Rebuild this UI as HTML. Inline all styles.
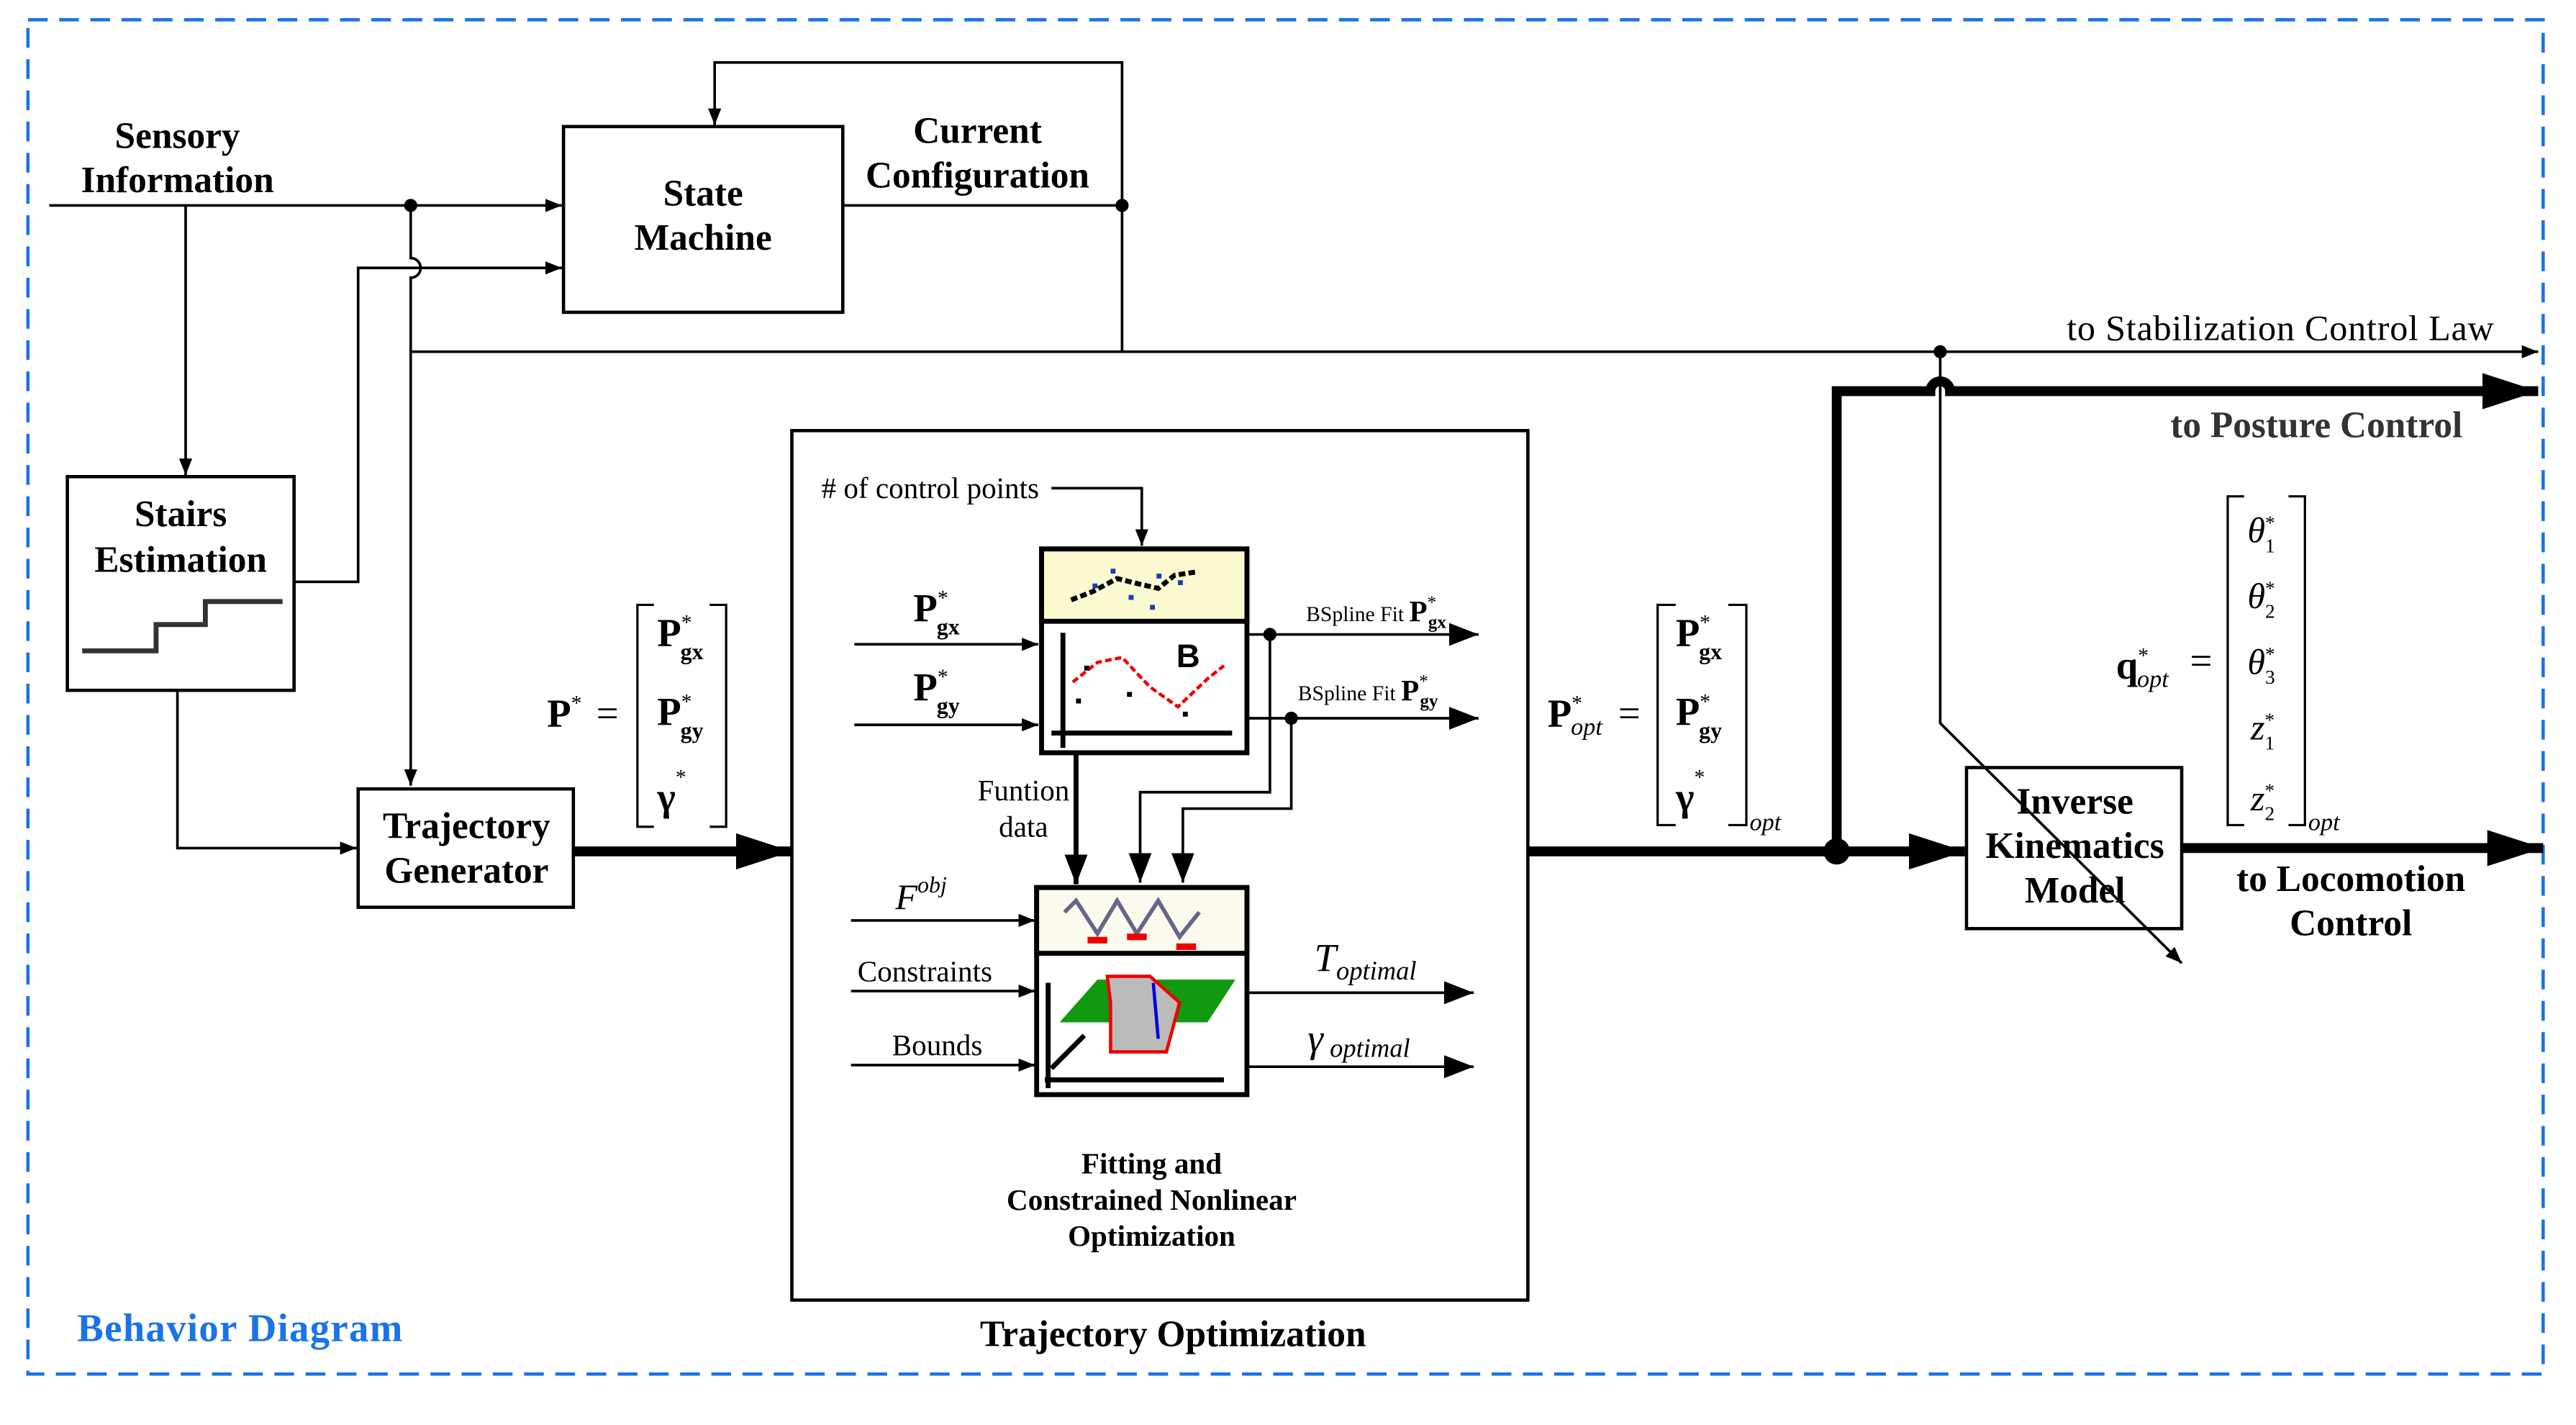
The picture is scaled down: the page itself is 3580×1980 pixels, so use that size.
<!DOCTYPE html>
<html><head><meta charset="utf-8"><style>
html,body{margin:0;padding:0;background:#fff;}
svg{display:block;}
text{font-family:"Liberation Serif",serif;fill:#000;}
.b{font-weight:bold;font-size:22.5px;}
.n{font-size:18px;}
</style></head><body>
<svg width="3580" height="1980" viewBox="0 0 1568 867" preserveAspectRatio="none" xmlns="http://www.w3.org/2000/svg">
<defs>
<marker id="a" markerWidth="10" markerHeight="8" refX="10" refY="4" orient="auto" markerUnits="userSpaceOnUse"><path d="M0,0L10,4L0,8z" fill="#000"/></marker>
<marker id="A" markerWidth="34" markerHeight="22" refX="34" refY="11" orient="auto" markerUnits="userSpaceOnUse"><path d="M0,0L34,11L0,22z" fill="#000"/></marker>
<marker id="M" markerWidth="18" markerHeight="14" refX="18" refY="7" orient="auto" markerUnits="userSpaceOnUse"><path d="M0,0L18,7L0,14z" fill="#000"/></marker>
</defs>
<rect x="17" y="12" width="1531" height="824" fill="none" stroke="#1a73e8" stroke-width="2" stroke-dasharray="12,7"/>
<text x="47" y="816" textLength="198" style="font-weight:bold;font-size:24px;fill:#1a73e8">Behavior Diagram</text>

<g stroke="#000" fill="none" stroke-width="1.6">
<line x1="30" y1="125" x2="342" y2="125" marker-end="url(#a)"/>
<line x1="113" y1="125" x2="113" y2="289" marker-end="url(#a)"/>
<path d="M250,125V157a6,6 0 0 1 0,12V478" marker-end="url(#a)"/>
<path d="M179,354H218V163H342" marker-end="url(#a)"/>
<path d="M108,420V516H217" marker-end="url(#a)"/>
<rect x="343" y="77" width="170" height="113" stroke-width="2"/>
<path d="M513,125H683V38H435V76" marker-end="url(#a)"/>
<line x1="683" y1="125" x2="683" y2="214"/>
<path d="M250,214H1545" marker-end="url(#a)"/>
<rect x="41" y="290" width="138" height="130" stroke-width="2"/>
<polyline points="50,396 95,396 95,380 125,380 125,366 172,366" stroke="#333" stroke-width="3"/>
<rect x="218" y="480" width="131" height="72" stroke-width="2"/>
<line x1="349" y1="518" x2="482" y2="518" stroke-width="6" marker-end="url(#A)"/>
<path d="M398,368H388V503H398M432,368H442V503H432" stroke-width="1.4"/>
<rect x="482" y="262" width="448" height="529" stroke-width="2"/>
<path d="M640,297H695V332" marker-end="url(#a)"/>
<line x1="520" y1="392" x2="632" y2="392" marker-end="url(#a)"/>
<line x1="520" y1="441" x2="632" y2="441" marker-end="url(#a)"/>
<line x1="759" y1="386" x2="900" y2="386" marker-end="url(#M)"/>
<line x1="759" y1="437" x2="900" y2="437" marker-end="url(#M)"/>
<path d="M773,386V482H694V537" marker-end="url(#M)"/>
<path d="M786,437V492H720V537" marker-end="url(#M)"/>
<line x1="655" y1="458" x2="655" y2="538" stroke-width="3" marker-end="url(#M)"/>
<line x1="518" y1="560" x2="630" y2="560" marker-end="url(#a)"/>
<line x1="518" y1="603" x2="630" y2="603" marker-end="url(#a)"/>
<line x1="518" y1="648" x2="630" y2="648" marker-end="url(#a)"/>
<line x1="759" y1="604" x2="897" y2="604" marker-end="url(#M)"/>
<line x1="759" y1="649" x2="897" y2="649" marker-end="url(#M)"/>
<line x1="930" y1="518" x2="1196" y2="518" stroke-width="6" marker-end="url(#A)"/>
<path d="M1118,518V238H1175a6,6 0 0 1 12,0H1545" stroke-width="6" marker-end="url(#A)"/>
<path d="M1020,368H1009V502H1020M1052,368H1063V502H1052" stroke-width="1.4"/>
<rect x="1197" y="467" width="131" height="98" stroke-width="2"/>
<path d="M1181,214V440L1328,586" marker-end="url(#a)"/>
<line x1="1328" y1="516" x2="1548" y2="516" stroke-width="6" marker-end="url(#A)"/>
<path d="M1366,302H1356V502H1366M1393,302H1403V502H1393" stroke-width="1.4"/>
</g>
<g fill="#000">
<circle cx="250" cy="125" r="4"/><circle cx="683" cy="125" r="4"/><circle cx="1181" cy="214" r="4"/>
<circle cx="773" cy="386" r="4"/><circle cx="786" cy="437" r="4"/><circle cx="1118" cy="518" r="8"/>
</g>
<rect x="634" y="334" width="125" height="124" fill="#fff" stroke="#000" stroke-width="3"/>
<rect x="634" y="334" width="125" height="44" fill="#fbf9cf" stroke="#000" stroke-width="3"/>
<polyline points="652,365 665,360 680,352 692,355 705,358 715,350 728,348" fill="none" stroke="#000" stroke-width="3" stroke-dasharray="4,2"/>
<g fill="#1a3fb0"><rect x="665" y="355" width="3" height="3"/><rect x="676" y="346" width="3" height="3"/><rect x="687" y="362" width="3" height="3"/><rect x="704" y="349" width="3" height="3"/><rect x="717" y="353" width="3" height="3"/><rect x="700" y="368" width="3" height="3"/></g>
<path d="M647,455V385M640,446H750" stroke="#000" stroke-width="3" fill="none"/>
<polyline points="653,415 668,403 683,400 700,418 717,430 735,413 745,405" fill="none" stroke="#e00" stroke-width="2" stroke-dasharray="4,2"/>
<text x="716" y="406" style="font-family:'Liberation Sans',sans-serif;font-weight:bold;font-size:20px">B</text>
<g fill="#000"><rect x="660" y="405" width="3" height="3"/><rect x="686" y="421" width="3" height="3"/><rect x="720" y="433" width="3" height="3"/><rect x="655" y="425" width="3" height="3"/></g>
<rect x="631" y="540" width="128" height="126" fill="#fff" stroke="#000" stroke-width="3"/>
<rect x="631" y="540" width="128" height="40" fill="#fcf9ef" stroke="#000" stroke-width="3"/>
<polyline points="648,555 655,548 668,568 680,548 692,568 705,548 718,570 730,555" fill="none" stroke="#668" stroke-width="2.5"/>
<g fill="#e00"><rect x="662" y="570" width="12" height="4"/><rect x="686" y="568" width="12" height="4"/><rect x="716" y="574" width="12" height="4"/></g>
<path d="M645,622L668,596H752L735,622Z" fill="#119911"/>
<path d="M674,594H700L718,610L710,640H676L676,610Z" fill="#bbb" stroke="#e00" stroke-width="2"/>
<path d="M702,598L705,632" stroke="#00d" stroke-width="2"/>
<path d="M638,662V598M636,657H745M640,650L660,630" stroke="#000" stroke-width="3" fill="none"/>
<g class="b" text-anchor="middle">
<text x="108" y="90">Sensory</text><text x="108" y="117">Information</text>
<text x="428" y="125">State</text><text x="428" y="152">Machine</text>
<text x="595" y="87">Current</text><text x="595" y="114">Configuration</text>
<text x="110" y="320">Stairs</text><text x="110" y="348">Estimation</text>
<text x="284" y="510">Trajectory</text><text x="284" y="537">Generator</text>
<text x="714" y="819">Trajectory Optimization</text>
<text x="1263" y="495">Inverse</text><text x="1263" y="522">Kinematics</text><text x="1263" y="549">Model</text>
<text x="1431" y="542">to Locomotion</text><text x="1431" y="569">Control</text>
<text x="1410" y="266" style="fill:#333">to Posture Control</text>
</g>
<g text-anchor="middle" style="font-weight:bold;font-size:18px">
<text x="701" y="714">Fitting and</text><text x="701" y="736">Constrained Nonlinear</text><text x="701" y="758">Optimization</text>
</g>
<text x="1258" y="207" textLength="260" style="font-size:22px">to Stabilization Control Law</text>
<text x="500" y="303" class="n"># of control points</text>
<text x="623" y="487" class="n" text-anchor="middle">Funtion</text><text x="623" y="509" class="n" text-anchor="middle">data</text>
<text x="522" y="597" class="n">Constraints</text>
<text x="543" y="642" class="n">Bounds</text>
<text x="545" y="553" style="font-style:italic;font-size:22px">F<tspan dy="-10" font-size="14">obj</tspan></text>
<text x="800" y="591" style="font-style:italic;font-size:24px">T<tspan dy="5" font-size="16">optimal</tspan></text>
<text x="796" y="640" style="font-style:italic;font-size:24px">γ<tspan dy="3" font-size="16"> optimal</tspan></text>
<text x="795" y="378" style="font-size:13px">BSpline Fit <tspan font-weight="bold" font-size="18">P</tspan><tspan dy="-8" font-size="11">*</tspan><tspan dx="-5" dy="12" font-weight="bold" font-size="11">gx</tspan></text>
<text x="790" y="426" style="font-size:13px">BSpline Fit <tspan font-weight="bold" font-size="18">P</tspan><tspan dy="-8" font-size="11">*</tspan><tspan dx="-5" dy="12" font-weight="bold" font-size="11">gy</tspan></text>
<g style="font-weight:bold;font-size:24px">
<text x="556" y="378">P<tspan dy="-10" font-size="13" font-weight="normal">*</tspan><tspan dx="-7" dy="18" font-size="14">gx</tspan></text>
<text x="556" y="426">P<tspan dy="-10" font-size="13" font-weight="normal">*</tspan><tspan dx="-7" dy="18" font-size="14">gy</tspan></text>
<text x="333" y="442">P<tspan dy="-10" font-size="13" font-weight="normal">*</tspan></text>
<text x="400" y="393">P<tspan dy="-10" font-size="13" font-weight="normal">*</tspan><tspan dx="-7" dy="18" font-size="14">gx</tspan></text>
<text x="400" y="441">P<tspan dy="-10" font-size="13" font-weight="normal">*</tspan><tspan dx="-7" dy="18" font-size="14">gy</tspan></text>
<text x="400" y="493">γ<tspan dy="-16" font-size="13" font-weight="normal">*</tspan></text>
<text x="1020" y="393">P<tspan dy="-10" font-size="13" font-weight="normal">*</tspan><tspan dx="-7" dy="18" font-size="14">gx</tspan></text>
<text x="1020" y="441">P<tspan dy="-10" font-size="13" font-weight="normal">*</tspan><tspan dx="-7" dy="18" font-size="14">gy</tspan></text>
<text x="1020" y="493">γ<tspan dy="-16" font-size="13" font-weight="normal">*</tspan></text>
<text x="942" y="442">P<tspan dy="-10" font-size="13" font-weight="normal">*</tspan><tspan dx="-7" dy="15" font-size="15" font-weight="normal" font-style="italic">opt</tspan></text>
<text x="1288" y="413">q<tspan dy="-10" font-size="13" font-weight="normal">*</tspan><tspan dx="-7" dy="15" font-size="15" font-weight="normal" font-style="italic">opt</tspan></text>
</g>
<text x="363" y="442" style="font-size:24px">=</text>
<text x="985" y="442" style="font-size:24px">=</text>
<text x="1333" y="410" style="font-size:24px">=</text>
<text x="1065" y="505" style="font-size:15px;font-style:italic">opt</text>
<text x="1405" y="505" style="font-size:15px;font-style:italic">opt</text>
<g style="font-size:22px;font-style:italic">
<text x="1368" y="330">θ<tspan dy="-8" font-size="12" font-style="normal">*</tspan><tspan dx="-6" dy="14" font-size="12" font-style="normal">1</tspan></text>
<text x="1368" y="370">θ<tspan dy="-8" font-size="12" font-style="normal">*</tspan><tspan dx="-6" dy="14" font-size="12" font-style="normal">2</tspan></text>
<text x="1368" y="410">θ<tspan dy="-8" font-size="12" font-style="normal">*</tspan><tspan dx="-6" dy="14" font-size="12" font-style="normal">3</tspan></text>
<text x="1370" y="450">z<tspan dy="-8" font-size="12" font-style="normal">*</tspan><tspan dx="-6" dy="14" font-size="12" font-style="normal">1</tspan></text>
<text x="1370" y="493">z<tspan dy="-8" font-size="12" font-style="normal">*</tspan><tspan dx="-6" dy="14" font-size="12" font-style="normal">2</tspan></text>
</g>
</svg>
</body></html>
